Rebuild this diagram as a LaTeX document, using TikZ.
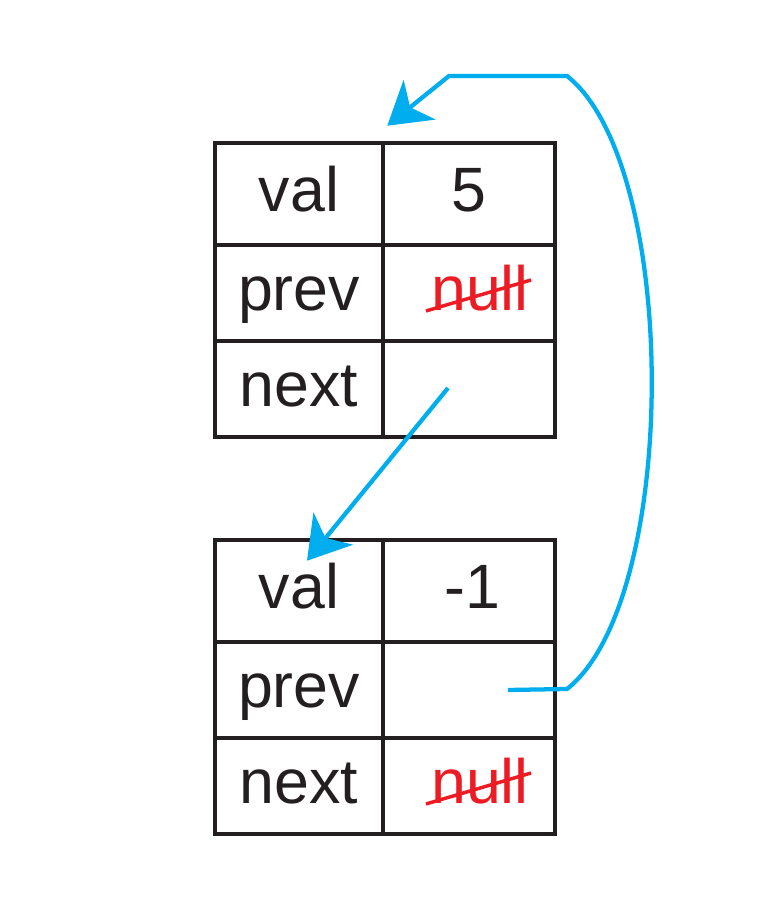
\documentclass[tikz,border=0pt]{standalone}
\usepackage{fontspec}
\setmainfont{Liberation Sans}
\usepackage{xcolor}
\usetikzlibrary{calc,arrows.meta}
\definecolor{linkblue}{HTML}{00AEEF}
\definecolor{nullred}{HTML}{ED1C24}
\definecolor{ink}{HTML}{231F20}
\tikzstyle{cell}=[draw=ink, line width=3.4pt, inner sep=0pt, text=ink, text height=27pt, text depth=0pt, font=\fontsize{47}{56}\selectfont]
\tikzstyle{txt}=[inner sep=0pt, text=ink, text height=27pt, text depth=0pt, font=\fontsize{47}{56}\selectfont]
\tikzstyle{link}=[draw=linkblue, line width=3.2pt, -{Stealth[length=31pt,width=38pt,inset=9pt]}]
\tikzstyle{strike}=[draw=nullred, line width=2.6pt]

\begin{document}
\begin{tikzpicture}[x=0.75pt,y=0.75pt]
\useasboundingbox (0,0) rectangle (767,913);
% two list nodes, three rows each
\foreach \t/\y in {1/770,2/373} {
	\foreach \r/\dy/\h in {val/51/76.5,prev/150/72,next/246/72} {
		\node[cell, minimum width=126pt, minimum height=\h pt] (\r\t) at (299,\y-\dy) {\r};
		\node[cell, minimum width=129pt, minimum height=\h pt] (\r\t-r) at (469,\y-\dy) {};
	}
}
\node[txt] (five) at (val1-r) {5};
\node[txt] (minus) at ($(val2-r)+(3,0)$) {-1};
\node[txt, text=nullred] (null1) at ($(prev1-r)+(11,0)$) {null};
\node[txt, text=nullred] (null2) at ($(next2-r)+(11,0)$) {null};
\draw[strike] ($(null1.base west)+(-5,0)$) -- ($(null1.base east)+(2,31)$);
\draw[strike] ($(null2.base west)+(-5,0)$) -- ($(null2.base east)+(2,31)$);

% next pointer
\coordinate (s1) at ($(next1-r)+(-21,1)$);
\coordinate (e1) at ($(val2.north)+(8,-23)$);
\draw[link] (s1) -- (e1);

% prev pointer, round the right side
\coordinate (s2) at ($(prev2-r)+(39,0)$);
\coordinate (c1) at (567,224);
\coordinate (c2) at (567,837);
\coordinate (c3) at (449,837);
\coordinate (e2) at ($(val1.north east)+(2,15)$);
\draw[link] (s2) -- (c1) .. controls (680,313) and (680,748) .. (c2) -- (c3) -- (e2);
\end{tikzpicture}
\end{document}
